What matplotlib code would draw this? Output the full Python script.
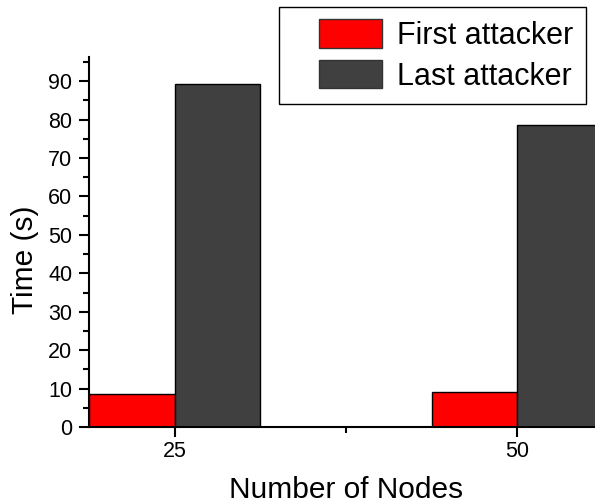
import matplotlib
matplotlib.use("Agg")
import matplotlib.pyplot as plt
from matplotlib.patches import Rectangle
from matplotlib.legend_handler import HandlerPatch
import numpy as np

plt.rcParams['font.family'] = ['Liberation Sans', 'DejaVu Sans']

# Data
nodes = [25, 50]
series_names = ["First attacker", "Last attacker"]
first_attacker = [8.5, 9.1]
last_attacker = [89.3, 78.6]
colors = ["#ff0000", "#404040"]

fig = plt.figure(figsize=(5.95, 5.04), dpi=100)
ax = fig.add_axes([0.1496, 0.1528, 0.864, 0.734])

width = 6.25
x = np.array(nodes, dtype=float)
ax.bar(x - width / 2, first_attacker, width, color=colors[0], edgecolor="black",
       linewidth=1.0, zorder=2)
ax.bar(x + width / 2, last_attacker, width, color=colors[1], edgecolor="black",
       linewidth=1.0, zorder=2)

ax.set_xlim(18.75, 56.25)
ax.set_ylim(0, 96.3)
ax.set_xticks(nodes)
ax.set_xticks([37.5], minor=True)
ax.set_yticks(np.arange(0, 91, 10))
ax.set_yticks(np.arange(5, 96, 10), minor=True)

for s in ["top", "right"]:
    ax.spines[s].set_visible(False)
for s in ["left", "bottom"]:
    ax.spines[s].set_linewidth(1.5)
    ax.spines[s].set_zorder(3)

ax.tick_params(axis="both", which="major", direction="out", length=7, width=1.5,
               labelsize=15.5)
ax.tick_params(axis="x", which="major", pad=3)
ax.tick_params(axis="y", which="major", pad=5)
ax.tick_params(axis="both", which="minor", direction="out", length=4, width=1.5)

ax.set_xlabel("Number of Nodes", fontsize=21.5, labelpad=10)
ax.set_ylabel("Time (s)", fontsize=21.5)
ax.yaxis.set_label_coords(-0.098, 0.453)


class OffsetPatchHandler(HandlerPatch):
    """Legend key drawn as a rectangle inset from the left of its slot."""

    def __init__(self, inset, **kw):
        super().__init__(**kw)
        self.inset = inset

    def create_artists(self, legend, orig_handle, xdescent, ydescent, width,
                       height, fontsize, trans):
        p = Rectangle((-xdescent + self.inset, -ydescent), width - self.inset,
                      height)
        p.set_facecolor(orig_handle.get_facecolor())
        p.set_edgecolor("#333333")
        p.set_linewidth(1.0)
        p.set_transform(trans)
        return [p]


handles = [Rectangle((0, 0), 1, 1, facecolor=c) for c in colors]
legend_fs = 22
inset_pts = 19.5
leg = fig.legend(
    handles, series_names, loc="upper left", bbox_to_anchor=(0.469, 0.987),
    fontsize=legend_fs, frameon=True, fancybox=False, edgecolor="black",
    borderpad=0.42, labelspacing=0.3, handlelength=2.94,
    handleheight=1.04, handletextpad=0.5, borderaxespad=0.0,
    handler_map={h: OffsetPatchHandler(inset_pts) for h in handles},
)
leg.get_frame().set_linewidth(1.0)
leg.get_frame().set_alpha(1)

fig.savefig("out.png", dpi=100)
